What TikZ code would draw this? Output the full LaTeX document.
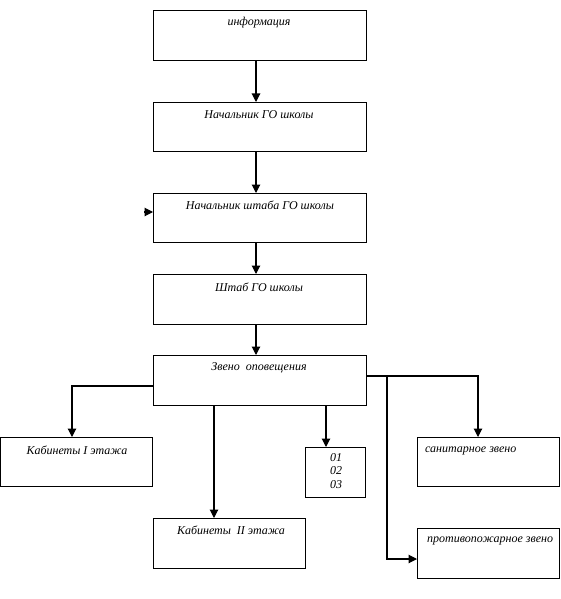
\documentclass[tikz,border=0pt]{standalone}
\usepackage{fontspec}
\setmainfont{Liberation Serif}
\usetikzlibrary{arrows.meta}
\begin{document}
\begin{tikzpicture}[x=1pt,y=-1pt,
  box/.style={draw,line width=1.1pt,inner sep=0pt,anchor=north west},
  txt/.style={inner sep=0pt,font=\itshape\fontsize{12}{13.5}\selectfont},
  conn/.style={line width=1.1pt,-{Triangle[width=8.5pt,length=8.5pt]}},
  plain/.style={line width=1.1pt}]
\useasboundingbox (0,0) rectangle (561,599);
\node[box,minimum width=213pt,minimum height=50pt] (b1) at (153,10) {};
\node[box,minimum width=213pt,minimum height=49pt] (b2) at (153,102) {};
\node[box,minimum width=213pt,minimum height=49pt] (b3) at (153,193) {};
\node[box,minimum width=213pt,minimum height=50pt] (b4) at (153,274) {};
\node[box,minimum width=213pt,minimum height=50pt] (b5) at (153,355) {};
\node[box,minimum width=152pt,minimum height=49pt] (k1) at (0,437) {};
\node[box,minimum width=152pt,minimum height=50pt] (k2) at (153,518) {};
\node[box,minimum width=60pt,minimum height=50pt] (n) at (305,447) {};
\node[box,minimum width=142pt,minimum height=49pt] (s) at (417,437) {};
\node[box,minimum width=142pt,minimum height=50pt] (p) at (417,528) {};
\node[txt] (t1) at (259,23) {информация};
\node[txt] (t2) at (259,115) {Начальник ГО школы};
\node[txt] (t3) at (260,205) {Начальник штаба ГО школы};
\node[txt] (t4) at (259,287) {Штаб ГО школы};
\node[txt] (t5) at (259,368) {Звено\ \ оповещения};
\node[txt] (tk1) at (77,450) {Кабинеты I этажа};
\node[txt] (tk2) at (231,530) {Кабинеты\ \ II этажа};
\node[txt,align=center] (tn) at (336,471) {01\\02\\03};
\node[txt,anchor=west] (ts) at (425,451) {санитарное звено};
\node[txt,anchor=west] (tp) at (427,541) {противопожарное звено};
\coordinate (a3) at (143,212);
\draw[conn] (b1.south -| 256,0) -- (b2.north -| 256,0);
\draw[conn] (b2.south -| 256,0) -- (b3.north -| 256,0);
\draw[conn] (b3.south -| 256,0) -- (b4.north -| 256,0);
\draw[conn] (b4.south -| 256,0) -- (b5.north -| 256,0);
\draw[conn,shorten <=1pt] (a3) -- (b3.west |- a3);
\draw[conn] (b5.west |- 0,386) -| (k1.north -| 72,0);
\draw[conn] (b5.south -| 214,0) -- (k2.north -| 214,0);
\draw[conn] (b5.south -| 326,0) -- (n.north -| 326,0);
\draw[conn] (b5.east |- 0,376) -| (s.north -| 478,0);
\draw[conn] (387,376) |- (p.west |- 0,559);
\end{tikzpicture}
\end{document}
